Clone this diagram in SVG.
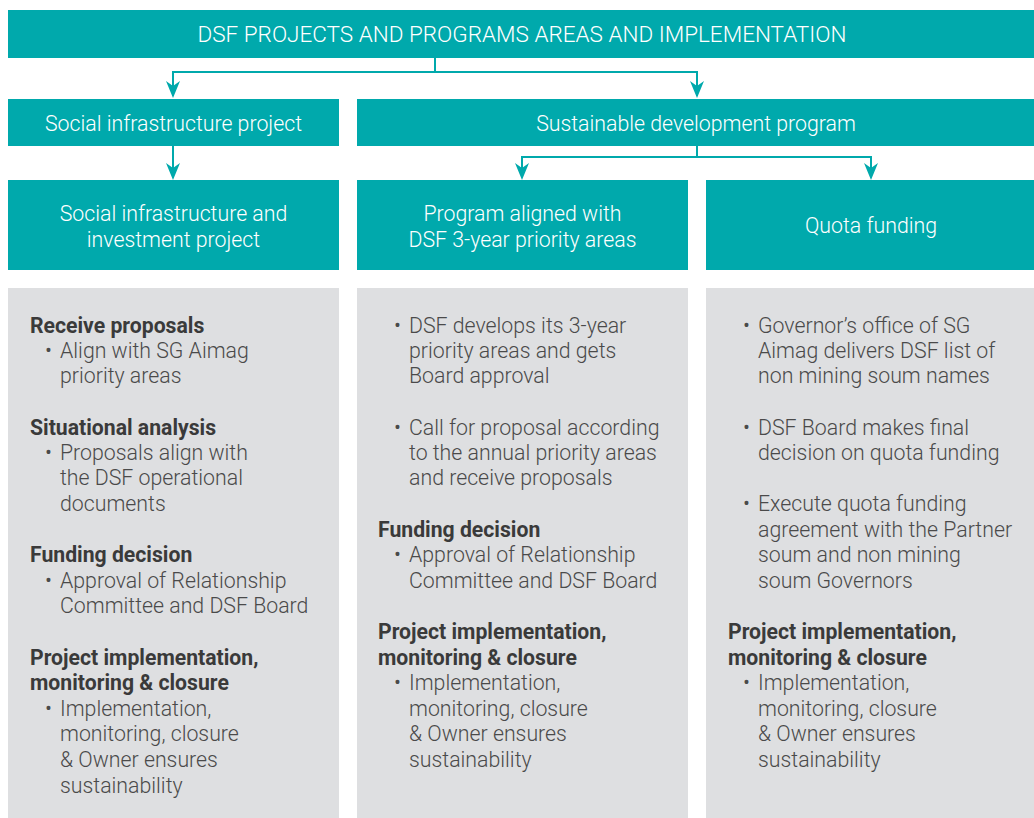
<svg xmlns="http://www.w3.org/2000/svg" width="1034" height="818" viewBox="0 0 1034 818">
<defs>
<style>
.teal{fill:#00A9AC}
.grey{fill:#DEDFE1}
.tw{font-family:Roboto,"Liberation Sans",sans-serif;font-weight:300;fill:#ffffff;text-anchor:middle;font-size:21.3px}
.h{font-family:Roboto,"Liberation Sans",sans-serif;font-weight:700;font-size:21.2px;fill:#3A3A3A}
.b{font-family:Roboto,"Liberation Sans",sans-serif;font-weight:300;font-size:21.3px;fill:#4A4A4A}
.con{fill:none;stroke:#00A9AC;stroke-width:2}
</style>
</defs>
<rect width="1034" height="818" fill="#ffffff"/>

<g id="header">
<rect class="teal" x="8" y="10" width="1026" height="48"/>
<text class="tw" x="522" y="42" style="font-size:22.5px">DSF PROJECTS AND PROGRAMS AREAS AND IMPLEMENTATION</text>
</g>

<g id="social-infra">
<rect class="teal" x="8" y="99" width="331" height="47"/>
<text class="tw" x="173.5" y="131">Social infrastructure project</text>
</g>

<g id="sustainable-dev">
<rect class="teal" x="357" y="99" width="677" height="47"/>
<text class="tw" x="696" y="131">Sustainable development program</text>
</g>

<g id="social-invest">
<rect class="teal" x="8" y="180" width="331" height="90"/>
<text class="tw" x="173.5" y="221">Social infrastructure and</text>
<text class="tw" x="173.5" y="247">investment project</text>
</g>

<g id="program-aligned">
<rect class="teal" x="357" y="180" width="331" height="90"/>
<text class="tw" x="522.5" y="221">Program aligned with</text>
<text class="tw" x="522.5" y="247">DSF 3-year priority areas</text>
</g>

<g id="quota">
<rect class="teal" x="706" y="180" width="328" height="90"/>
<text class="tw" x="871" y="233">Quota funding</text>
</g>

<g id="connectors">
<path class="con" d="M435,58 V72 H173 V96" />
<path class="con" d="M435,72 H697 V96" />
<path class="con" d="M173,146 V177" />
<path class="con" d="M697,146 V157 H522 V177" />
<path class="con" d="M697,157 H871 V177" />
<g fill="#00A9AC">
<path d="M166,81 L173,98 L180,81 L173,86 Z"/>
<path d="M690,81 L697,98 L704,81 L697,86 Z"/>
<path d="M166,163 L173,180 L180,163 L173,168 Z"/>
<path d="M515,163 L522,180 L529,163 L522,168 Z"/>
<path d="M864,163 L871,180 L878,163 L871,168 Z"/>
</g>
</g>

<g id="panel-social">
<rect class="grey" x="8" y="288" width="331" height="530"/>
<g transform="translate(0,1)">
<text class="h" x="30" y="332">Receive proposals</text>
<text class="b" x="45" y="357">•</text>
<text class="b" x="60" y="357">Align with SG Aimag</text>
<text class="b" x="60" y="382">priority areas</text>
<text class="h" x="30" y="434">Situational analysis</text>
<text class="b" x="45" y="459">•</text>
<text class="b" x="60" y="459">Proposals align with</text>
<text class="b" x="60" y="484">the DSF operational</text>
<text class="b" x="60" y="510">documents</text>
<text class="h" x="30" y="561">Funding decision</text>
<text class="b" x="45" y="587">•</text>
<text class="b" x="60" y="587">Approval of Relationship</text>
<text class="b" x="60" y="612">Committee and DSF Board</text>
<text class="h" x="30" y="664">Project implementation,</text>
<text class="h" x="30" y="689">monitoring &amp; closure</text>
<text class="b" x="45" y="715">•</text>
<text class="b" x="60" y="715">Implementation,</text>
<text class="b" x="60" y="740">monitoring, closure</text>
<text class="b" x="60" y="766">&amp; Owner ensures</text>
<text class="b" x="60" y="792">sustainability</text>
</g>
</g>

<g id="panel-program">
<rect class="grey" x="357" y="288" width="331" height="530"/>
<g transform="translate(0,1)">
<text class="b" x="394" y="332">•</text>
<text class="b" x="409" y="332">DSF develops its 3-year</text>
<text class="b" x="409" y="357">priority areas and gets</text>
<text class="b" x="409" y="382">Board approval</text>
<text class="b" x="394" y="434">•</text>
<text class="b" x="409" y="434">Call for proposal according</text>
<text class="b" x="409" y="459">to the annual priority areas</text>
<text class="b" x="409" y="484">and receive proposals</text>
<text class="h" x="378" y="536">Funding decision</text>
<text class="b" x="394" y="561">•</text>
<text class="b" x="409" y="561">Approval of Relationship</text>
<text class="b" x="409" y="587">Committee and DSF Board</text>
<text class="h" x="378" y="638">Project implementation,</text>
<text class="h" x="378" y="664">monitoring &amp; closure</text>
<text class="b" x="394" y="689">•</text>
<text class="b" x="409" y="689">Implementation,</text>
<text class="b" x="409" y="715">monitoring, closure</text>
<text class="b" x="409" y="740">&amp; Owner ensures</text>
<text class="b" x="409" y="766">sustainability</text>
</g>
</g>

<g id="panel-quota">
<rect class="grey" x="706" y="288" width="328" height="530"/>
<g transform="translate(0,1)">
<text class="b" x="743" y="332">•</text>
<text class="b" x="758" y="332">Governor’s office of SG</text>
<text class="b" x="758" y="357">Aimag delivers DSF list of</text>
<text class="b" x="758" y="382">non mining soum names</text>
<text class="b" x="743" y="434">•</text>
<text class="b" x="758" y="434">DSF Board makes final</text>
<text class="b" x="758" y="459">decision on quota funding</text>
<text class="b" x="743" y="510">•</text>
<text class="b" x="758" y="510">Execute quota funding</text>
<text class="b" x="758" y="536">agreement with the Partner</text>
<text class="b" x="758" y="561">soum and non mining</text>
<text class="b" x="758" y="587">soum Governors</text>
<text class="h" x="728" y="638">Project implementation,</text>
<text class="h" x="728" y="664">monitoring &amp; closure</text>
<text class="b" x="743" y="689">•</text>
<text class="b" x="758" y="689">Implementation,</text>
<text class="b" x="758" y="715">monitoring, closure</text>
<text class="b" x="758" y="740">&amp; Owner ensures</text>
<text class="b" x="758" y="766">sustainability</text>
</g>
</g>
</svg>
